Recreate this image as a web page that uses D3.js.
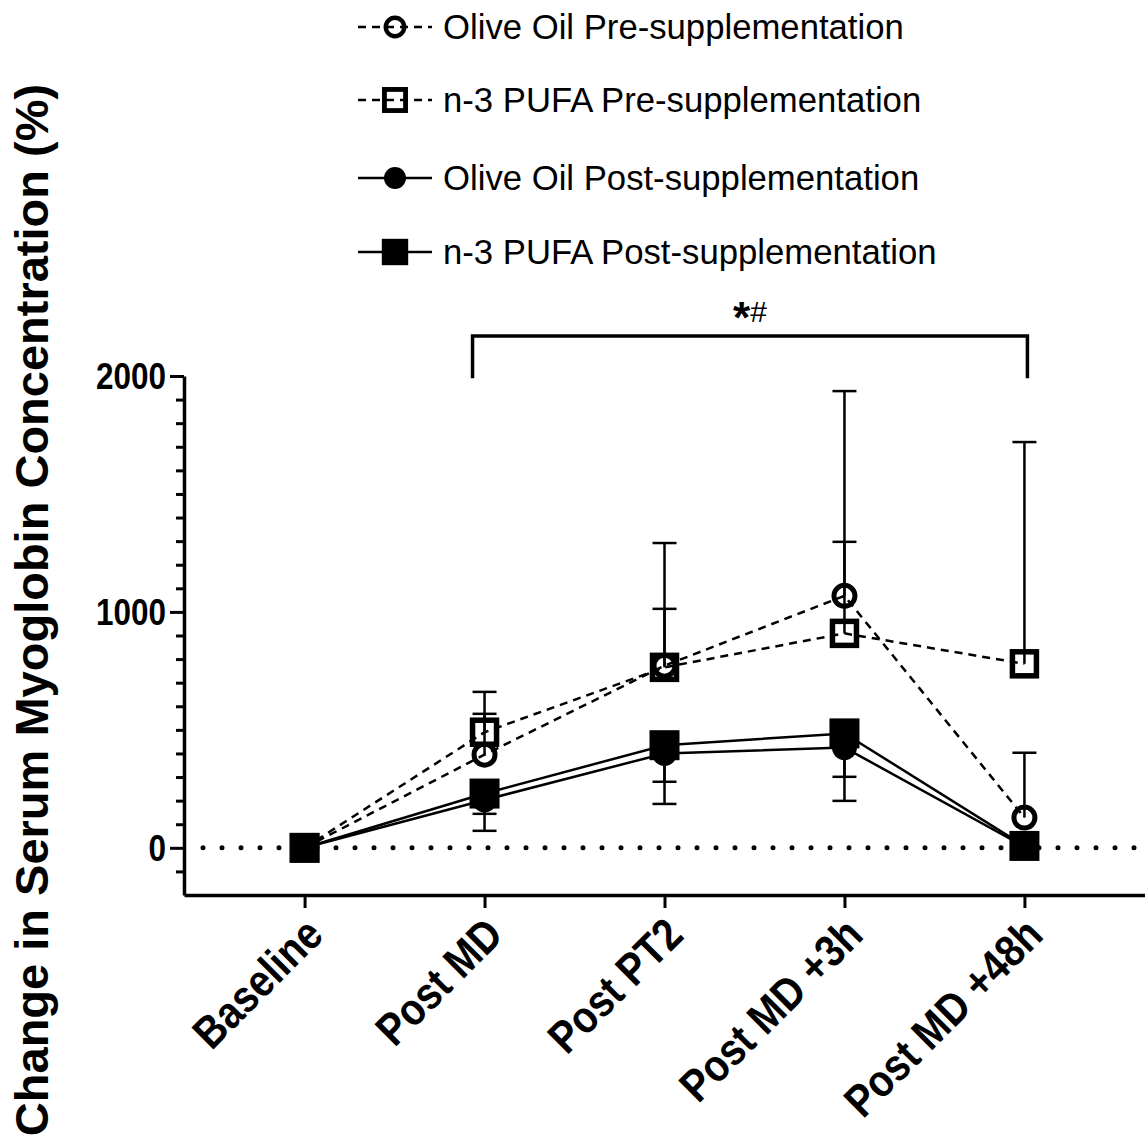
<!doctype html>
<html lang="en">
    <head>
        <meta charset="utf-8">
        <title>Serum Myoglobin</title>
        <script type="text/javascript" src="https://cdn.jsdelivr.net/npm/d3@7"></script>
        <style>
            body { margin: 0; background: #fff; }
            text { font-family: "Liberation Sans", Arial, sans-serif; }
        </style>
    </head>
    <body>
        <script type="text/javascript">
            var svgW = 1145;
            var svgH = 1142;

            // data (% change)
            var categories = ["Baseline", "Post MD", "Post PT2", "Post MD +3h", "Post MD +48h"];
            var oliveOilPre = [0, 395, 772, 1068, 128];
            var oliveOilPreSD = [0, 173, 241, 868, 275];
            var n3Pre = [0, 490, 765, 909, 780];
            var n3PreSD = [0, 171, 527, 388, 940];
            var oliveOilPost = [0, 203, 400, 425, 5];
            var oliveOilPostSD = [0, 131, 214, 226, 0];
            var n3Post = [0, 230, 435, 485, 8];
            var n3PostSD = [0, 86, 155, 184, 0];
            var yMajorTicks = [0, 1000, 2000];
            var legendLabels = ["Olive Oil Pre-supplementation", "n-3 PUFA Pre-supplementation",
                                "Olive Oil Post-supplementation", "n-3 PUFA Post-supplementation"];

            var series = [
                {name: legendLabels[0], values: oliveOilPre, sd: oliveOilPreSD, dir: 1, dash: "8,6", marker: "openCircle"},
                {name: legendLabels[1], values: n3Pre, sd: n3PreSD, dir: 1, dash: "8,6", marker: "openSquare"},
                {name: legendLabels[2], values: oliveOilPost, sd: oliveOilPostSD, dir: -1, dash: null, marker: "filledCircle"},
                {name: legendLabels[3], values: n3Post, sd: n3PostSD, dir: -1, dash: null, marker: "filledSquare"}
            ];

            var xScale = d3.scalePoint()
                           .domain(categories)
                           .range([184, 1145])
                           .padding(0.67);

            var yScale = d3.scaleLinear()
                           .domain([-200, 2000])
                           .range([895, 376]);

            var svg = d3.select("body")
                        .append("svg")
                        .attr("width", svgW)
                        .attr("height", svgH);

            // dotted zero line
            svg.append("line")
               .attr("x1", 203)
               .attr("x2", svgW)
               .attr("y1", yScale(0))
               .attr("y2", yScale(0))
               .attr("stroke", "black")
               .attr("stroke-width", 5)
               .attr("stroke-linecap", "round")
               .attr("stroke-dasharray", "0,19");

            // y axis: minor ticks then major ticks
            var minor = svg.append("g")
                           .attr("transform", "translate(184,0)")
                           .call(d3.axisLeft(yScale)
                                   .tickValues(d3.range(-100, 2001, 100).filter(v => yMajorTicks.indexOf(v) < 0))
                                   .tickSize(8)
                                   .tickFormat(""));
            minor.select(".domain").remove();

            var yAxis = svg.append("g")
                           .attr("transform", "translate(184,0)")
                           .call(d3.axisLeft(yScale)
                                   .tickValues(yMajorTicks)
                                   .tickSize(14)
                                   .tickSizeOuter(0)
                                   .tickPadding(4)
                                   .tickFormat(d3.format("d")));

            var xAxis = svg.append("g")
                           .attr("transform", "translate(0," + yScale(-200) + ")")
                           .call(d3.axisBottom(xScale)
                                   .tickSize(13)
                                   .tickSizeOuter(0));

            [minor, yAxis, xAxis].forEach(function(g) {
                g.selectAll("line").attr("stroke", "black").attr("stroke-width", 3);
                g.selectAll(".domain").attr("stroke", "black").attr("stroke-width", 3.5);
            });

            yAxis.selectAll("text")
                 .attr("font-size", "36px")
                 .attr("font-weight", "bold")
                 .attr("fill", "black")
                 .attr("dy", "0.35em")
                 .attr("textLength", d => String(d).length * 17.5)
                 .attr("lengthAdjust", "spacingAndGlyphs");

            // rotated category labels, condensed like the original
            xAxis.selectAll("text")
                 .attr("font-size", "45px")
                 .attr("font-weight", "bold")
                 .attr("fill", "black")
                 .attr("text-anchor", "end")
                 .attr("transform", "translate(-2,20) rotate(-45)")
                 .attr("x", 0)
                 .attr("y", 0)
                 .attr("dy", "0.7em")
                 .attr("lengthAdjust", "spacingAndGlyphs")
                 .attr("textLength", function() { return this.getComputedTextLength() * 0.87; });

            // y axis title
            svg.append("text")
               .attr("transform", "translate(48,610) rotate(-90)")
               .attr("text-anchor", "middle")
               .attr("font-size", "47px")
               .attr("font-weight", "bold")
               .text("Change in Serum Myoglobin Concentration (%)");

            // error bars
            series.forEach(function(s) {
                var g = svg.append("g");
                s.values.forEach(function(v, i) {
                    if (s.sd[i] <= 0) return;
                    var x = xScale(categories[i]);
                    var yEnd = yScale(v + s.dir * s.sd[i]);
                    g.append("line")
                     .attr("x1", x).attr("x2", x)
                     .attr("y1", yScale(v)).attr("y2", yEnd)
                     .attr("stroke", "black").attr("stroke-width", 2.5);
                    g.append("line")
                     .attr("x1", x - 12).attr("x2", x + 12)
                     .attr("y1", yEnd).attr("y2", yEnd)
                     .attr("stroke", "black").attr("stroke-width", 2.5);
                });
            });

            var line = d3.line()
                         .x((d, i) => xScale(categories[i]))
                         .y(d => yScale(d));

            series.forEach(function(s) {
                svg.append("path")
                   .datum(s.values)
                   .attr("d", line)
                   .attr("fill", "none")
                   .attr("stroke", "black")
                   .attr("stroke-width", 2.5)
                   .attr("stroke-dasharray", s.dash);
            });

            function drawMarker(g, type, x, y, scale) {
                if (type == "openCircle") {
                    g.append("circle").attr("cx", x).attr("cy", y).attr("r", 10.5 * scale)
                     .attr("fill", "none").attr("stroke", "black").attr("stroke-width", 5 * scale);
                } else if (type == "openSquare") {
                    var a = 24 * scale;
                    g.append("rect").attr("x", x - a / 2).attr("y", y - a / 2).attr("width", a).attr("height", a)
                     .attr("fill", "none").attr("stroke", "black").attr("stroke-width", 5.5 * scale);
                } else if (type == "filledCircle") {
                    g.append("circle").attr("cx", x).attr("cy", y).attr("r", 12.5 * scale).attr("fill", "black");
                } else {
                    var b = 30 * scale;
                    g.append("rect").attr("x", x - b / 2).attr("y", y - b / 2).attr("width", b).attr("height", b)
                     .attr("fill", "black");
                }
            }

            series.forEach(function(s) {
                var g = svg.append("g");
                s.values.forEach(function(v, i) {
                    drawMarker(g, s.marker, xScale(categories[i]), yScale(v), 1);
                });
            });

            // significance bracket
            var bx1 = xScale("Post MD") - 12;
            var bx2 = xScale("Post MD +48h") + 3;
            svg.append("path")
               .attr("d", "M" + bx1 + "," + yScale(1990) + "V" + yScale(2170) + "H" + bx2 + "V" + yScale(1990))
               .attr("fill", "none")
               .attr("stroke", "black")
               .attr("stroke-width", 3.5);

            var star = svg.append("text")
                          .attr("x", (bx1 + bx2) / 2)
                          .attr("y", 320)
                          .attr("text-anchor", "middle");
            star.append("tspan").attr("font-size", "44px").attr("font-weight", "bold").attr("dy", "13").text("*");
            star.append("tspan").attr("font-size", "30px").attr("dy", "-11").text("#");

            // legend
            var legend = svg.append("g");
            var rowY = [27, 100, 178, 252];
            series.forEach(function(s, i) {
                var row = legend.append("g");
                row.append("line")
                   .attr("x1", 358).attr("x2", 432)
                   .attr("y1", rowY[i]).attr("y2", rowY[i])
                   .attr("stroke", "black")
                   .attr("stroke-width", 2.5)
                   .attr("stroke-dasharray", s.dash ? "8,6" : null);
                drawMarker(row, s.marker, 395, rowY[i], 0.88);
                row.append("text")
                   .attr("x", 443)
                   .attr("y", rowY[i])
                   .attr("dy", "0.35em")
                   .attr("font-size", "34.7px")
                   .text(s.name);
            });
        </script>
    </body>
</html>
